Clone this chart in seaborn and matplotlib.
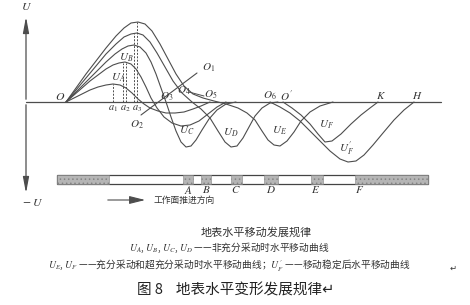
import matplotlib
matplotlib.use("Agg")
import matplotlib.pyplot as plt
import seaborn as sns
import pandas as pd

sns.set_theme(style="white")
plt.rcParams['font.family'] = ['Noto Sans CJK SC', 'DejaVu Sans']
plt.rcParams['mathtext.fontset'] = 'stix'
plt.rcParams['hatch.linewidth'] = 0.6

# ---- schematic curves: position along surface (x) and horizontal displacement U ----
ua_x = [66, 74, 82, 90, 98, 106, 113, 120, 126, 132, 138, 144, 150, 158, 166, 175, 184, 193, 201, 210]
ua_u = [0, 4, 8, 12, 15, 17, 18, 17, 14, 9, 3, -2, -6, -9, -11, -11, -10, -7, -4, 0]

ub_x = [66, 74, 82, 90, 98, 106, 113, 119, 125, 131, 136, 141, 146, 151, 157, 164, 172, 181, 190, 199, 208, 217, 226]
ub_u = [0, 7, 14, 21, 27, 33, 37, 39, 40, 38, 33, 25, 15, 4, -6, -15, -21, -24, -23, -19, -12, -5, 0]

uc_x = [66, 76, 86, 96, 106, 115, 122, 128, 134, 140, 146, 151, 156, 161, 166, 171, 176, 181, 186, 191, 196, 202, 209, 217, 226, 236]
uc_u = [0, 10, 20, 30, 40, 48, 53, 56, 57, 55, 49, 40, 28, 14, 0, -15, -29, -40, -45, -44, -38, -28, -17, -8, -2, 0]

ud_x = [66, 76, 86, 96, 106, 116, 124, 131, 137, 143, 150, 157, 165, 173, 182, 192, 201, 210, 218, 225, 231, 237, 243, 249, 255, 262, 270, 278]
ud_u = [0, 12, 24, 36, 48, 58, 65, 68, 69, 67, 60, 49, 35, 21, 9, 0, -7, -16, -29, -40, -45, -44, -36, -25, -14, -6, -1, 0]

ue_x = [66, 76, 86, 96, 106, 116, 124, 131, 138, 145, 152, 160, 168, 176, 184, 193, 203, 214, 226, 238, 247, 255, 262, 268, 274, 280, 287, 294, 301, 310, 320, 333]
ue_u = [0, 14, 28, 41, 54, 66, 74, 79, 80, 78, 71, 58, 43, 28, 16, 8, 4, 1, -2, -6, -11, -18, -29, -38, -43, -44, -39, -30, -19, -10, -4, 0]

uf_x = [283, 292, 301, 310, 318, 325, 332, 341, 351, 361, 370, 378]
uf_u = [0, -6, -13, -22, -32, -40, -39, -32, -22, -13, -6, 0]

ufp_x = [270, 280, 290, 300, 310, 320, 330, 340, 348, 356, 364, 373, 383, 394, 404, 414]
ufp_u = [0, -5, -11, -19, -29, -39, -49, -57, -60, -59, -53, -43, -31, -18, -8, 0]

# peak positions a1..a3 (dashed verticals)
dash_x = [113, 123, 126, 134, 137]
dash_u = [18, 39, 39, 69, 80]

# working-face strip: shaded (mined) segments
seg_left = [57, 183, 201, 231, 264, 311, 355]
seg_width = [52, 10, 10, 11, 14, 12, 73]
strip_left, strip_right = 57, 428
face_labels = ['A', 'B', 'C', 'D', 'E', 'F']
face_x = [188, 206, 236, 271, 316, 360]

fig = plt.figure(figsize=(4.70, 3.05), dpi=100)
ax = fig.add_axes([0, 0, 1, 1])
ax.set_xlim(0, 470)
ax.set_ylim(-203, 102)
ax.axis('off')

lc = '#4d4d4d'
lw = 0.8
curves = [(ua_x, ua_u), (ub_x, ub_u), (uc_x, uc_u), (ud_x, ud_u), (ue_x, ue_u),
          (uf_x, uf_u), (ufp_x, ufp_u)]
for cx, cu in curves:
    df = pd.DataFrame({'x': cx, 'u': cu})
    sns.lineplot(data=df, x='x', y='u', ax=ax, color=lc, linewidth=lw,
                 sort=False, estimator=None)
ax.set_xlabel('')
ax.set_ylabel('')

# O2-O1 line and O4-O5 line
ax.plot([141, 197], [-13, 29], color=lc, lw=lw)
ax.plot([189, 204], [10, 6], color=lc, lw=0.7)

# dashed verticals
for dx, du in zip(dash_x, dash_u):
    ax.plot([dx, dx], [0, du], color=lc, lw=0.7, ls=(0, (2, 1.5)))

# axes
ax.plot([26, 441], [0, 0], color=lc, lw=0.9)
ax.annotate('', xy=(26, 88), xytext=(26, 0),
            arrowprops=dict(arrowstyle='-|>,head_length=0.8,head_width=0.15', color=lc, lw=0.9))
ax.annotate('', xy=(26, -94), xytext=(26, 0),
            arrowprops=dict(arrowstyle='-|>,head_length=0.8,head_width=0.15', color=lc, lw=0.9))

tc = '#333333'
def t(x, y, s, size=8, **kw):
    ax.text(x, y, s, fontsize=size, color=tc, ha='center', va='center', **kw)

t(26, 95, r'$U$', 8.5)
t(33, -101, r'$-\ U$', 8.5)
t(60, 5, r'$O$', 8.5)
t(113, -7, r'$a_1$', 7.5)
t(125, -7, r'$a_2$', 7.5)
t(137, -7, r'$a_3$', 7.5)
t(209, 34, r'$O_1$')
t(137, -23, r'$O_2$')
t(167, 5, r'$O_3$')
t(184, 11, r'$O_4$')
t(211, 7, r'$O_5$')
t(270, 6, r'$O_6$')
t(286, 6, r"$O^{\prime}$")
t(381, 6, r'$K$')
t(417, 6, r'$H$')
t(118, 24, r'$U_A$')
t(126, 44, r'$U_{B}$')
t(187, -29, r'$U_C$')
t(231, -31, r'$U_D$')
t(279, -29, r'$U_E$')
t(327, -23, r'$U_F$')
t(347, -47, r"$U_F^{\prime}$")

# working-face strip
ax.barh([-77.5], [strip_right - strip_left], left=[strip_left], height=9,
        color='white', edgecolor='#444444', linewidth=0.9)
ax.barh([-77.5] * len(seg_left), seg_width, left=seg_left, height=9,
        color='#b5b5b5', edgecolor='#858585', linewidth=0.4, hatch='....')
for fx, fl in zip(face_x, face_labels):
    t(fx, -88, '$' + fl + '$', 8)

# advance direction arrow
ax.annotate('', xy=(148, -98), xytext=(105, -98),
            arrowprops=dict(arrowstyle='-|>,head_length=0.8,head_width=0.2', color=lc, lw=0.8))
ax.text(154, -98.5, '工作面推进方向', fontsize=6.3, color=tc, ha='left', va='center')

# captions
t(256, -130, '地表水平移动发展规律', 8)
t(229, -146, r'$U_A$, $U_B$, $U_C$, $U_D$ ——非充分采动时水平移动曲线', 7)
t(229, -163, r"$U_E$, $U_F$ ——充分采动和超充分采动时水平移动曲线；$U_F^{\prime}$ ——移动稳定后水平移动曲线", 7)
t(453, -166, '↵', 6)
ax.text(137, -188, '图 8    地表水平变形发展规律↵', fontsize=10.5, color='#222222',
        ha='left', va='center')

fig.savefig('out.png', dpi=100)
